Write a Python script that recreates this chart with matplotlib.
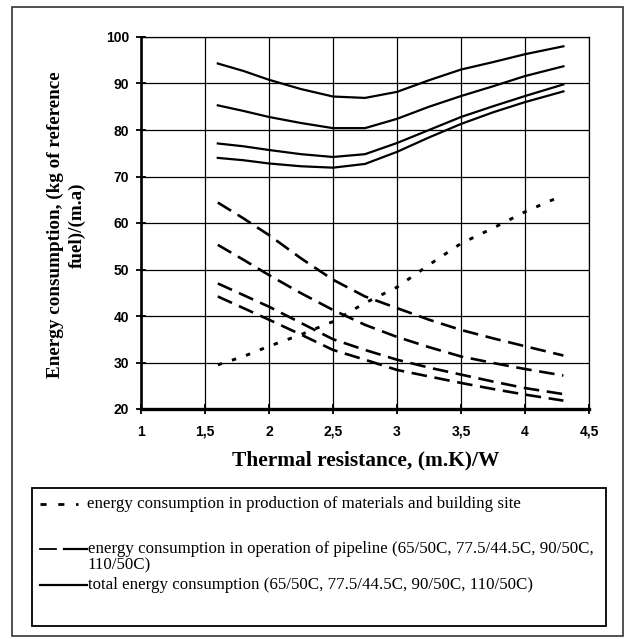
import numpy as np
import matplotlib.pyplot as plt
from matplotlib.lines import Line2D
from matplotlib.patches import Rectangle

# thermal resistance, (m.K)/W
x = [1.6, 1.8, 2.0, 2.25, 2.5, 2.75, 3.0, 3.25, 3.5, 3.75, 4.0, 4.3]

# energy in production of materials and building site
production = [29.5, 31.3, 33.5, 36.0, 38.8, 42.8, 46.2, 51.0, 55.6, 58.9, 62.4, 66.0]

# energy in operation of pipeline (110/50C, 90/50C, 77.5/44.5C, 65/50C)
oper_110 = [64.4, 61.0, 57.4, 52.4, 47.8, 44.2, 41.7, 39.2, 37.0, 35.2, 33.5, 31.5]
oper_90 = [55.3, 52.1, 48.8, 44.9, 41.3, 38.1, 35.5, 33.3, 31.3, 29.9, 28.6, 27.2]
oper_775 = [47.0, 44.5, 42.0, 38.5, 35.0, 32.7, 30.6, 28.9, 27.4, 25.9, 24.5, 23.2]
oper_65 = [44.2, 41.7, 39.2, 36.0, 32.7, 30.6, 28.4, 27.0, 25.6, 24.3, 23.1, 21.8]

# total energy consumption
total_110 = [94.3, 92.7, 90.8, 88.8, 87.2, 86.9, 88.2, 90.7, 93.0, 94.6, 96.3, 98.0]
total_90 = [85.3, 84.1, 82.8, 81.5, 80.4, 80.4, 82.4, 85.0, 87.3, 89.4, 91.6, 93.7]
total_775 = [77.1, 76.5, 75.7, 74.8, 74.2, 74.8, 77.2, 80.0, 82.8, 85.1, 87.3, 89.8]
total_65 = [74.0, 73.5, 72.8, 72.2, 71.9, 72.7, 75.3, 78.4, 81.3, 83.8, 86.0, 88.3]

xticks = [1, 1.5, 2, 2.5, 3, 3.5, 4, 4.5]
xtick_labels = ["1", "1,5", "2", "2,5", "3", "3,5", "4", "4,5"]
yticks = [20, 30, 40, 50, 60, 70, 80, 90, 100]

legend_labels = [
    "energy consumption in production of materials and building site",
    "energy consumption in operation of pipeline (65/50C, 77.5/44.5C, 90/50C,\n110/50C)",
    "total energy consumption (65/50C, 77.5/44.5C, 90/50C, 110/50C)",
]

W, H = 626, 639
fig = plt.figure(figsize=(W / 100, H / 100), dpi=100)


def fx(px):
    return px / W


def fy(py):
    return 1 - py / H


ax = fig.add_axes([fx(141), fy(409), fx(589) - fx(141), fy(37) - fy(409)])

for ys in [total_110, total_90, total_775, total_65]:
    ax.plot(x, ys, color="black", lw=1.6, solid_joinstyle="round")

for ys in [oper_110, oper_90, oper_775, oper_65]:
    ln, = ax.plot(x, ys, color="black", lw=1.9)
    ln.set_dashes((5.9, 2.9))

ln, = ax.plot(x, production, color="black", lw=2.1)
ln.set_dashes((1.5, 3.6))

ax.set_xlim(1, 4.5)
ax.set_ylim(20, 100)
ax.set_xticks(xticks)
ax.set_xticklabels(xtick_labels)
ax.set_yticks(yticks)
ax.grid(True, color="black", lw=0.9)
ax.set_axisbelow(True)

for s in ["top", "right"]:
    ax.spines[s].set_linewidth(0.9)
ax.spines["left"].set_linewidth(1.9)
ax.spines["bottom"].set_linewidth(2.4)

ax.tick_params(direction="inout", length=7, width=1.3, pad=5,
               labelsize=10, labelfontfamily="Liberation Sans")
ax.tick_params(axis="x", pad=8)
for lab in ax.get_xticklabels() + ax.get_yticklabels():
    lab.set_fontweight("bold")

fig.text(fx(66), fy(225), "Energy consumption, (kg of reference\nfuel)/(m.a)",
         rotation=90, ha="center", va="center", family="Liberation Serif",
         weight="bold", fontsize=13.8, linespacing=1.35)
fig.text(fx(366), fy(460), "Thermal resistance, (m.K)/W", ha="center",
         va="center", family="Liberation Serif", weight="bold", fontsize=15.4)

# outer frame and legend box
fig.patches.append(Rectangle((fx(12), fy(636)), fx(623) - fx(12), fy(7) - fy(636),
                             transform=fig.transFigure, fill=False,
                             edgecolor="#333333", lw=1.2))
fig.patches.append(Rectangle((fx(32), fy(626)), fx(606) - fx(32), fy(488) - fy(626),
                             transform=fig.transFigure, fill=False,
                             edgecolor="black", lw=1.3))

h1 = Line2D([fx(40), fx(78)], [fy(504)] * 2, transform=fig.transFigure,
            color="black", lw=2.0)
h1.set_dashes((2.2, 4.2))
h2a = Line2D([fx(40), fx(56)], [fy(549)] * 2, transform=fig.transFigure,
             color="black", lw=1.3)
h2b = Line2D([fx(64), fx(87)], [fy(549)] * 2, transform=fig.transFigure,
             color="black", lw=1.6)
h3 = Line2D([fx(40), fx(87)], [fy(585)] * 2, transform=fig.transFigure,
            color="black", lw=1.6)
fig.lines.extend([h1, h2a, h2b, h3])

lkw = dict(family="Liberation Serif", fontsize=12.2, va="center", ha="left")
fig.text(fx(87), fy(504), legend_labels[0], **lkw)
fig.text(fx(88), fy(557), legend_labels[1], linespacing=1.0, **lkw)
fig.text(fx(88), fy(585), legend_labels[2], **lkw)

fig.savefig("out.png", dpi=100)
